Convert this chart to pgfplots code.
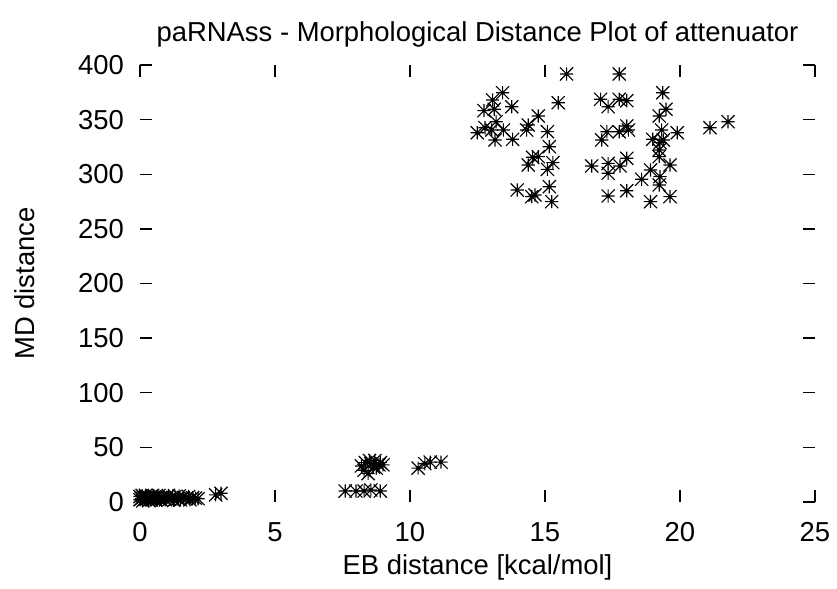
\documentclass[border=0pt]{standalone}
\usepackage{fontspec}
\setmainfont{Liberation Sans}
\usepackage{pgfplots}
\pgfplotsset{compat=1.18}
\pgfdeclareplotmark{gstar}{%
  \pgfpathmoveto{\pgfqpoint{-\pgfplotmarksize}{0pt}}\pgfpathlineto{\pgfqpoint{\pgfplotmarksize}{0pt}}%
  \pgfpathmoveto{\pgfqpoint{0pt}{-\pgfplotmarksize}}\pgfpathlineto{\pgfqpoint{0pt}{\pgfplotmarksize}}%
  \pgfpathmoveto{\pgfqpoint{-\pgfplotmarksize}{-\pgfplotmarksize}}\pgfpathlineto{\pgfqpoint{\pgfplotmarksize}{\pgfplotmarksize}}%
  \pgfpathmoveto{\pgfqpoint{-\pgfplotmarksize}{\pgfplotmarksize}}\pgfpathlineto{\pgfqpoint{\pgfplotmarksize}{-\pgfplotmarksize}}%
  \pgfusepathqstroke}
\begin{document}
\fontsize{9.6pt}{11.5pt}\selectfont
\begin{tikzpicture}
\begin{axis}[
  at={(0,0)}, anchor=south west,
  scale only axis, width=236.25pt, height=152.95pt,
  xmin=0, xmax=25, ymin=0, ymax=400,
  xtick={0,5,...,25}, ytick={0,50,...,400},
  tick align=inside, major tick length=4.2pt,
  tick style={black, line width=0.45pt},
  axis line style={draw=none},
  clip=false,
  /pgf/number format/assume math mode=true,
  xticklabel style={yshift=-3.7pt},
  yticklabel style={xshift=-2.2pt},
  title={paRNAss - Morphological Distance Plot of attenuator},
  title style={at={(axis description cs:0.5,1.0137)}, anchor=base, inner sep=0pt},
  xlabel={EB distance [kcal/mol]},
  xlabel style={at={(axis description cs:0.5,-0.1648)}, anchor=base, inner sep=0pt},
  ylabel={MD distance},
  ylabel style={at={(axis description cs:-0.1556,0.5)}, rotate=0, anchor=base, inner sep=0pt},
]
\addplot[only marks, mark=gstar, mark size=2.3pt, black, line width=0.4pt] coordinates {
(0,2) (0,5) (0.05,3) (0.08,6) (0.1,1) (0.12,4) (0.18,2.5) (0.2,6) (0.25,3) (0.3,5)
(0.32,1.5) (0.38,4) (0.42,2) (0.45,6) (0.5,3.5) (0.55,5) (0.6,2) (0.65,4) (0.7,6) (0.75,3)
(0.8,1.5) (0.85,5) (0.9,3.5) (0.95,2) (1.0,4.5) (1.05,6) (1.1,2.5) (1.2,4) (1.25,1.5) (1.3,5)
(1.4,3) (1.45,5.5) (1.5,2) (1.6,4) (1.7,3) (1.8,5) (1.85,2) (1.95,4) (2.05,3.5) (2.15,3)
(2.8,6.5) (3.0,8)
(8.2,33) (8.35,36) (8.5,38) (8.7,38) (8.9,36) (9.0,34) (8.3,29) (8.45,26) (8.65,32) (8.85,34) (8.55,35) (8.75,31)
(10.3,31) (10.55,35) (10.75,36.5) (11.15,36.5)
(7.6,10) (8.0,10) (8.3,10) (8.55,11) (8.9,10)
(13.43,374.6) (13.06,368) (13.77,361.8) (12.74,358.2) (13.12,359.5) (15.49,365.5) (13.19,348.1) (14.75,353.3)
(12.49,338) (12.78,342.6) (13.03,340.5) (13.46,340.5) (13.15,331.4) (13.80,332) (14.32,340.5) (14.38,345.1)
(15.09,339) (15.16,325.2) (14.54,315.5) (14.75,316.1) (14.38,308.5) (15.29,310.6) (15.09,304.5) (13.97,285.6)
(14.63,281) (15.16,288.6) (15.25,274.9) (14.51,279.5) (15.80,391.8) (17.75,391.8) (19.36,374.6) (17.06,368.6)
(17.34,361.8) (17.75,368.6) (18.03,367.3) (19.48,359.5) (19.23,353.3) (17.29,338.9) (17.10,331.4) (17.75,338.9)
(18.03,344.2) (18.09,340.5) (19.32,340.5) (19.9,338) (18.99,332) (19.26,328.9) (19.38,331.4) (19.23,322.2)
(19.23,316.1) (16.73,307.6) (17.34,310) (17.34,300.9) (17.78,307.6) (18.03,314.6) (18.91,303.9) (19.63,308.5)
(18.58,295.4) (19.26,297.8) (19.23,290.2) (17.34,280.1) (18.03,284.9) (18.91,274.9) (19.63,279.5) (21.11,342.6)
(21.78,348.1)
};
\end{axis}
\pgfresetboundingbox
\useasboundingbox (-49pt,-30.45pt) rectangle (243.95pt,175.7pt);
\end{tikzpicture}
\end{document}
